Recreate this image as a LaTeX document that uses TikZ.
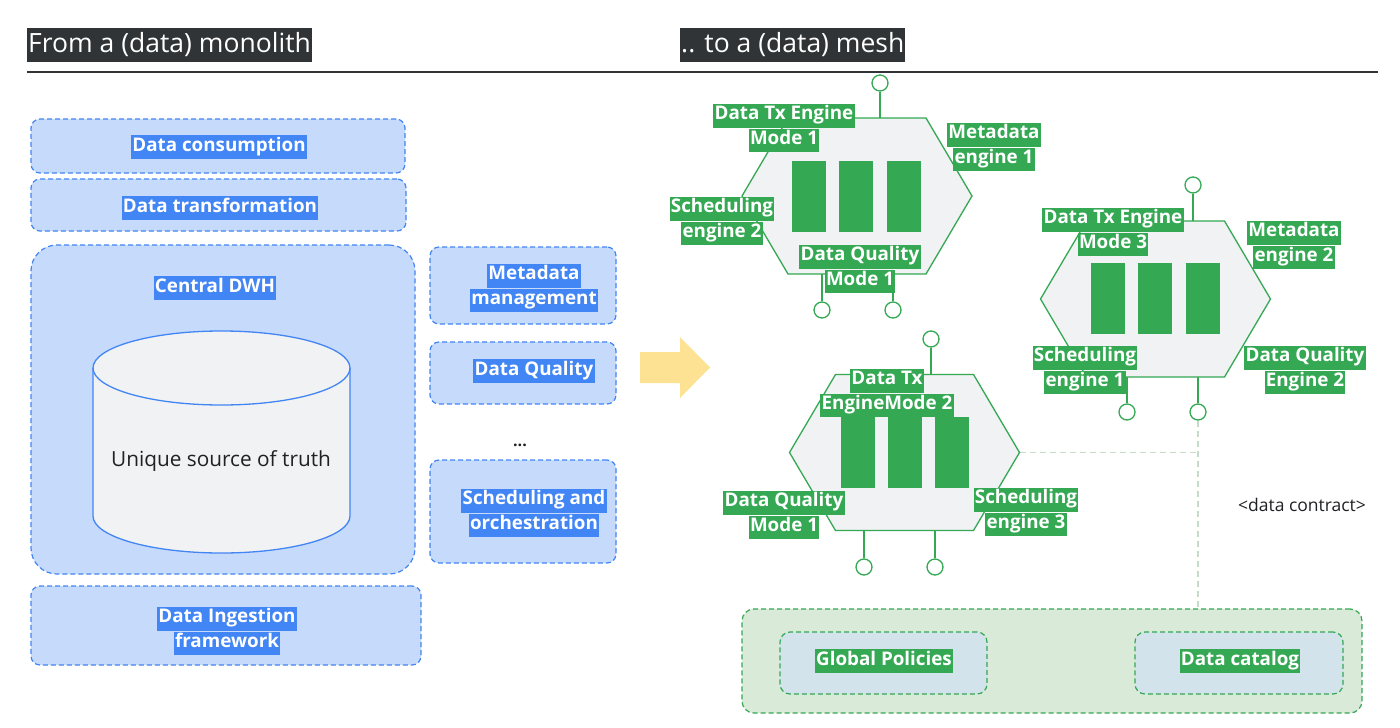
\documentclass[tikz,border=0pt]{standalone}
\usepackage{fontspec}
\setmainfont{Open Sans}
\usetikzlibrary{calc}
\definecolor{gblue}{HTML}{4285F4}
\definecolor{lblue}{HTML}{C6DAFC}
\definecolor{ggreen}{HTML}{34A853}
\definecolor{titlebg}{HTML}{303437}
\definecolor{hexfill}{HTML}{F0F2F3}
\definecolor{arrowy}{HTML}{FDE293}
\definecolor{contract}{HTML}{C5DCCB}
\definecolor{govfill}{HTML}{D9EAD8}
\definecolor{innerfill}{HTML}{D3E3EC}
\definecolor{txt}{HTML}{202124}
\newcommand{\blh}[1]{\colorbox{gblue}{\strut #1}}
\newcommand{\grh}[1]{\colorbox{ggreen}{\strut #1}}
\setlength{\fboxsep}{1.2pt}
\tikzset{
  lbox/.style={draw=gblue, dash pattern=on 5pt off 3pt, line width=1.2pt, fill=lblue, rounded corners=9pt, inner sep=0pt},
  hlab/.style={text=white, font=\fontsize{18.8}{21.5}\selectfont\bfseries, align=center, inner sep=0pt},
  titlenode/.style={fill=titlebg, text=white, font=\fontsize{26.5}{30}\selectfont, anchor=west, inner xsep=1pt, inner ysep=0pt, minimum height=34pt},
  hexs/.style={draw=ggreen, line width=1.3pt, fill=hexfill},
  tile/.style={fill=ggreen, minimum width=34pt, minimum height=71pt, inner sep=0pt},
  port/.style={circle, draw=ggreen, line width=1.3pt, fill=white, minimum size=16pt, inner sep=0pt},
  conn/.style={draw=ggreen, line width=1.3pt},
  contr/.style={draw=contract, line width=1.3pt, dash pattern=on 6pt off 4pt},
  govbox/.style={draw=ggreen, dash pattern=on 5pt off 3pt, line width=1.2pt, rounded corners=12pt, inner sep=0pt},
}
\newcommand{\hexat}[1]{%
  \draw[hexs] ($(#1)+(-115,0)$) -- ($(#1)+(-69,-78)$) -- ($(#1)+(69,-78)$) -- ($(#1)+(115,0)$) -- ($(#1)+(69,78)$) -- ($(#1)+(-69,78)$) -- cycle;
}
\begin{document}
\begin{tikzpicture}[x=1pt,y=-1pt]
\useasboundingbox (0,0) rectangle (1400,728);
\fill[white] (0,0) rectangle (1400,728);

% titles
\node[titlenode] (t1) at (27,45) {From a (data) monolith};
\node[titlenode] (t2) at (680,45) {.. to a (data) mesh};
\coordinate (ruleA) at (27,72);
\coordinate (ruleB) at (1378,72);
\draw[titlebg, line width=1.5pt] (ruleA) -- (ruleB);

% left side
\node[lbox, minimum width=374pt, minimum height=54pt] (cons) at (218,146) {};
\node[hlab] (consl) at (219,147) {\blh{Data consumption}};
\node[lbox, minimum width=375pt, minimum height=52pt] (trans) at (218.5,205) {};
\node[hlab] (transl) at (220,208) {\blh{Data transformation}};
\node[lbox, rounded corners=26pt, minimum width=384pt, minimum height=329pt] (dwh) at (223,409.5) {};
\node[hlab] (dwhl) at (215,288) {\blh{Central DWH}};

% cylinder
\fill[hexfill] (93,368) -- (93,516) arc[start angle=180,end angle=360,x radius=128.5pt,y radius=37pt] -- (350,368) arc[start angle=0,end angle=180,x radius=128.5pt,y radius=37pt] -- cycle;
\draw[gblue, line width=1.3pt] (93,368) -- (93,516) arc[start angle=180,end angle=360,x radius=128.5pt,y radius=37pt] -- (350,368);
\draw[gblue, line width=1.3pt] (221.5,368) ellipse[x radius=128.5pt, y radius=37pt];
\node[text=txt, font=\fontsize{20.8}{24}\selectfont, inner sep=0pt] (truth) at (221,461) {Unique source of truth};

\node[lbox, minimum width=186pt, minimum height=77pt] (meta) at (523,285.5) {};
\node[hlab] (metal) at (534,288) {\blh{Metadata}\\\blh{management}};
\node[lbox, minimum width=186pt, minimum height=62pt] (dq) at (523,373) {};
\node[hlab] (dql) at (534,371) {\blh{Data Quality}};
\node[text=txt, font=\fontsize{16}{18}\selectfont\bfseries, inner sep=0pt] (dots) at (520,445) {...};
\node[lbox, minimum width=186pt, minimum height=103pt] (sched) at (523,511.5) {};
\node[hlab] (schedl) at (534,513) {\blh{Scheduling and}\\\blh{orchestration}};
\node[lbox, minimum width=390pt, minimum height=79pt] (ingest) at (226,625.5) {};
\node[hlab] (ingestl) at (227,631) {\blh{Data Ingestion}\\\blh{framework}};

% transition arrow
\fill[arrowy] (640,352) -- (680,352) -- (680,337) -- (710,367.5) -- (680,398) -- (680,383) -- (640,383) -- cycle;

% hexagon centres and edge points
\coordinate (h1) at (857,196);
\coordinate (h2) at (1155.5,299);
\coordinate (h3) at (904.5,452.5);
\coordinate (h1N) at (857,118);  \coordinate (h1S) at (857,274);
\coordinate (h2N) at (1155.5,221); \coordinate (h2S) at (1155.5,377);
\coordinate (h3N) at (904.5,374.5); \coordinate (h3S) at (904.5,530.5);
\coordinate (h3E) at (1019.5,452.5);

% governance box
\node[govbox, fill=govfill, minimum width=620pt, minimum height=104pt] (gov) at (1052,661) {};
\node[govbox, fill=innerfill, rounded corners=10pt, minimum width=207pt, minimum height=62pt] (pol) at (883.5,663) {};
\node[govbox, fill=innerfill, rounded corners=10pt, minimum width=208pt, minimum height=62pt] (cat) at (1239,663) {};
\node[hlab] (poll) at (884,661) {\grh{Global Policies}};
\node[hlab] (catl) at (1240,661) {\grh{Data catalog}};

% ports
\node[port] (p1t) at (880,83) {};
\node[port] (p1a) at (822,310) {};
\node[port] (p1b) at (893,310) {};
\node[port] (p2t) at (1193,185) {};
\node[port] (p2a) at (1127,412) {};
\node[port] (p2b) at (1198,412) {};
\node[port] (p3t) at (931,339) {};
\node[port] (p3a) at (864,567) {};
\node[port] (p3b) at (935,567) {};

% data contract lines
\draw[contr] (h3E) -- (h3E -| p2b);
\draw[contr] (p2b.south) -- (p2b.south |- gov.north);
\node[text=txt, font=\fontsize{17.5}{20}\selectfont, inner sep=0pt] (dc) at (1302,505) {<data contract>};

% connectors
\draw[conn] (p1t.south) -- (p1t.south |- h1N);
\draw[conn] (p1a.north) -- (p1a.north |- h1S);
\draw[conn] (p1b.north) -- (p1b.north |- h1S);
\draw[conn] (p2t.south) -- (p2t.south |- h2N);
\draw[conn] (p2a.north) -- (p2a.north |- h2S);
\draw[conn] (p2b.north) -- (p2b.north |- h2S);
\draw[conn] (p3t.south) -- (p3t.south |- h3N);
\draw[conn] (p3a.north) -- (p3a.north |- h3S);
\draw[conn] (p3b.north) -- (p3b.north |- h3S);

% hexagons
\hexat{h1}
\hexat{h2}
\hexat{h3}

% tiles
\node[tile] (h1a) at (809,196.5) {};
\node[tile] (h1b) at (856,196.5) {};
\node[tile] (h1c) at (904,196.5) {};
\node[tile] (h2a) at (1108,298.5) {};
\node[tile] (h2b) at (1155,298.5) {};
\node[tile] (h2c) at (1203,298.5) {};
\node[tile] (h3a) at (858,452.5) {};
\node[tile] (h3b) at (905,452.5) {};
\node[tile] (h3c) at (952,452.5) {};

% hexagon labels
\node[hlab] (l1a) at (784,128) {\grh{Data Tx Engine}\\\grh{Mode 1}};
\node[hlab] (l1b) at (994,147) {\grh{Metadata}\\\grh{engine 1}};
\node[hlab] (l1c) at (722,221) {\grh{Scheduling}\\\grh{engine 2}};
\node[hlab] (l1d) at (860,269) {\grh{Data Quality}\\\grh{Mode 1}};

\node[hlab] (l2a) at (1113,232) {\grh{Data Tx Engine}\\\grh{Mode 3}};
\node[hlab] (l2b) at (1294,245) {\grh{Metadata}\\\grh{engine 2}};
\node[hlab] (l2c) at (1085,370) {\grh{Scheduling}\\\grh{engine 1}};
\node[hlab] (l2d) at (1305,370) {\grh{Data Quality}\\\grh{Engine 2}};

\node[hlab] (l3a) at (887,393) {\grh{Data Tx}\\\grh{EngineMode 2}};
\node[hlab] (l3b) at (784,515) {\grh{Data Quality}\\\grh{Mode 1}};
\node[hlab] (l3c) at (1026,512) {\grh{Scheduling}\\\grh{engine 3}};
\end{tikzpicture}
\end{document}
